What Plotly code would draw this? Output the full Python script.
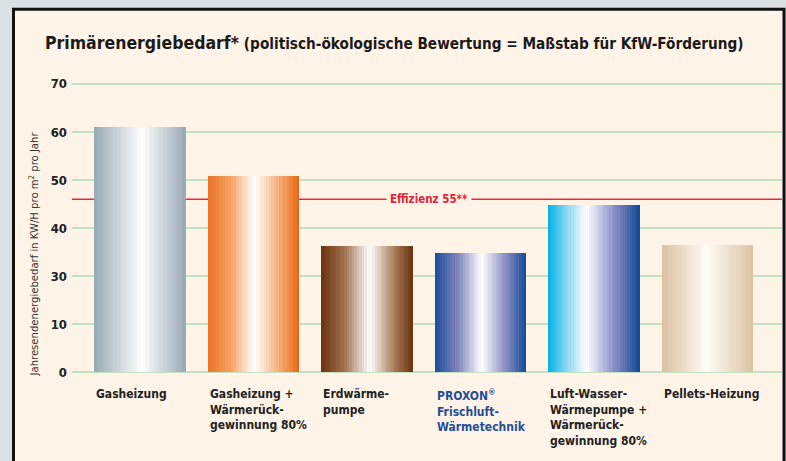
import plotly.graph_objects as go

# ---------------- data ----------------
CATEGORIES = ["Gasheizung", "Gasheizung +<br>Wärmerück-<br>gewinnung 80%", "Erdwärme-<br>pumpe",
              "PROXON<sup>®</sup><br>Frischluft-<br>Wärmetechnik",
              "Luft-Wasser-<br>Wärmepumpe +<br>Wärmerück-<br>gewinnung 80%", "Pellets-Heizung"]
# values on the drawn axis scale (gridlines every 10 units)
VALUES = [51.1, 40.9, 26.2, 24.7, 34.7, 26.4]
EFFIZIENZ = 36.0
TICK_VALS = [0, 10, 20, 30, 40, 50, 60]
TICK_TEXT = ["0", "10", "30", "40", "50", "60", "70"]
LABEL_COLORS = ["#222222", "#222222", "#222222", "#1f4e96", "#222222", "#222222"]

# gradient stops per bar (fraction across bar, colour)
GRADIENTS = [
    [(0, "#97a9b4"), (0.52, "#ffffff"), (1, "#97a9b4")],
    [(0, "#eb7322"), (0.25, "#f4a264"), (0.51, "#ffffff"), (0.78, "#f6ad78"), (1, "#e8660e")],
    [(0, "#6a3210"), (0.25, "#a0704e"), (0.53, "#ffffff"), (0.8, "#a87a58"), (1, "#6a3210")],
    [(0, "#1a4c99"), (0.25, "#7d84ba"), (0.51, "#ffffff"), (0.78, "#868bc0"), (1, "#0f4a98")],
    [(0, "#00b3e8"), (0.2, "#8ad5f0"), (0.42, "#ffffff"), (0.6, "#b5b8df"), (0.8, "#6c77b4"), (1, "#0c4a97")],
    [(0, "#d9c0a0"), (0.49, "#fffcf6"), (1, "#dac2a2")],
]

W, H = 786, 461
BAR_W = 0.81
NSLICE = 36
FONT = "DejaVu Sans Condensed, Liberation Sans Narrow, sans-serif"
CREAM = "#fff4e7"


def hex2rgb(h):
    h = h.lstrip("#")
    return tuple(int(h[i:i + 2], 16) for i in (0, 2, 4))


def interp(stops, t):
    for (t0, c0), (t1, c1) in zip(stops[:-1], stops[1:]):
        if t0 <= t <= t1:
            f = (t - t0) / (t1 - t0) if t1 > t0 else 0
            a, b = hex2rgb(c0), hex2rgb(c1)
            return "rgb(%d,%d,%d)" % tuple(round(a[j] + (b[j] - a[j]) * f) for j in range(3))
    return stops[-1][1]


xs = list(range(len(VALUES)))
fig = go.Figure()
step = BAR_W / NSLICE
for k in range(NSLICE):
    t = (k + 0.5) / NSLICE
    off = -BAR_W / 2 + k * step
    wid = step * 1.6 if k < NSLICE - 1 else step
    if off + wid > BAR_W / 2:
        wid = BAR_W / 2 - off
    fig.add_trace(go.Bar(
        x=xs, y=VALUES, width=wid, offset=off,
        marker=dict(color=[interp(g, t) for g in GRADIENTS], line=dict(width=0)),
        hoverinfo="skip", showlegend=False))


def px_x(p):
    return p / W


def px_y(p):
    # vertical target pixel -> paper fraction (with small render compensation)
    q = (p - 5.3) / 0.977
    return (H - q) / H


x_left, x_right = 72, 782
x0c, dx = 140, 113.5
y_top, y_bot = 84.3, 372.7
pad = 0.4
ppu = (y_bot - y_top) / 60.0

fig.update_layout(
    width=W, height=H,
    margin=dict(l=0, r=0, t=0, b=0),
    paper_bgcolor="#d9e1e5",
    plot_bgcolor="rgba(0,0,0,0)",
    barmode="overlay",
    bargap=0,
    font=dict(family=FONT, color="#222222"),
    xaxis=dict(domain=[px_x(x_left), px_x(x_right)],
               range=[(x_left - x0c) / dx, (x_right - x0c) / dx],
               showgrid=False, zeroline=False, showticklabels=False, fixedrange=True),
    yaxis=dict(domain=[px_y(y_bot + pad * ppu), px_y(y_top - pad * ppu)],
               range=[-pad, 60 + pad],
               tickvals=TICK_VALS, ticktext=TICK_TEXT,
               tickfont=dict(family=FONT, size=13, color="#222222", weight="bold"),
               ticklabelstandoff=4,
               showgrid=True, gridcolor="#c6e1c2", gridwidth=1.6,
               zeroline=False, showline=False, ticks="", fixedrange=True),
    shapes=[
        dict(type="rect", xref="paper", yref="paper",
             x0=px_x(13.5), x1=px_x(784), y0=-0.05, y1=px_y(9.5),
             fillcolor=CREAM, line=dict(color="#111111", width=3), layer="below"),
        dict(type="line", xref="x domain", yref="y", x0=0, x1=1,
             y0=EFFIZIENZ, y1=EFFIZIENZ, line=dict(color="#e8283e", width=1.6), layer="below"),
    ],
)

annotations = [
    dict(xref="paper", yref="paper", x=px_x(43), y=px_y(43), xanchor="left", yanchor="middle",
         showarrow=False,
         text="<b>Primärenergiebedarf*</b> <span style='font-size:15.2px'><b>(politisch-ökologische Bewertung = Maßstab für KfW-Förderung)</b></span>",
         font=dict(family=FONT, size=17.5, color="#1a1a1a")),
    dict(xref="paper", yref="paper", x=px_x(34), y=px_y(255), xanchor="center", yanchor="middle",
         showarrow=False, textangle=-90,
         text="Jahresendenergiebedarf in KW/H pro m<sup>2</sup> pro Jahr",
         font=dict(family=FONT, size=11.2, color="#333333")),
    dict(xref="paper", yref="y", x=px_x(429), y=EFFIZIENZ, xanchor="center", yanchor="middle",
         showarrow=False, text="<b>Effizienz 55**</b>", bgcolor=CREAM, borderpad=3,
         font=dict(family=FONT, size=11.5, color="#e3233a")),
]
for i, (lab, col) in enumerate(zip(CATEGORIES, LABEL_COLORS)):
    annotations.append(dict(
        xref="x", yref="y", x=i - BAR_W / 2, y=0, xanchor="left", yanchor="top",
        yshift=-13, showarrow=False, align="left", text="<b>%s</b>" % lab,
        font=dict(family=FONT, size=12, color=col)))
fig.update_layout(annotations=annotations)

POST = ("document.documentElement.style.margin='0';document.body.style.margin='0';"
        "document.body.style.padding='0';document.documentElement.style.overflow='hidden';"
        "document.body.style.overflow='hidden';")
fig.write_html("out.html", config={"displayModeBar": False}, post_script=POST)
